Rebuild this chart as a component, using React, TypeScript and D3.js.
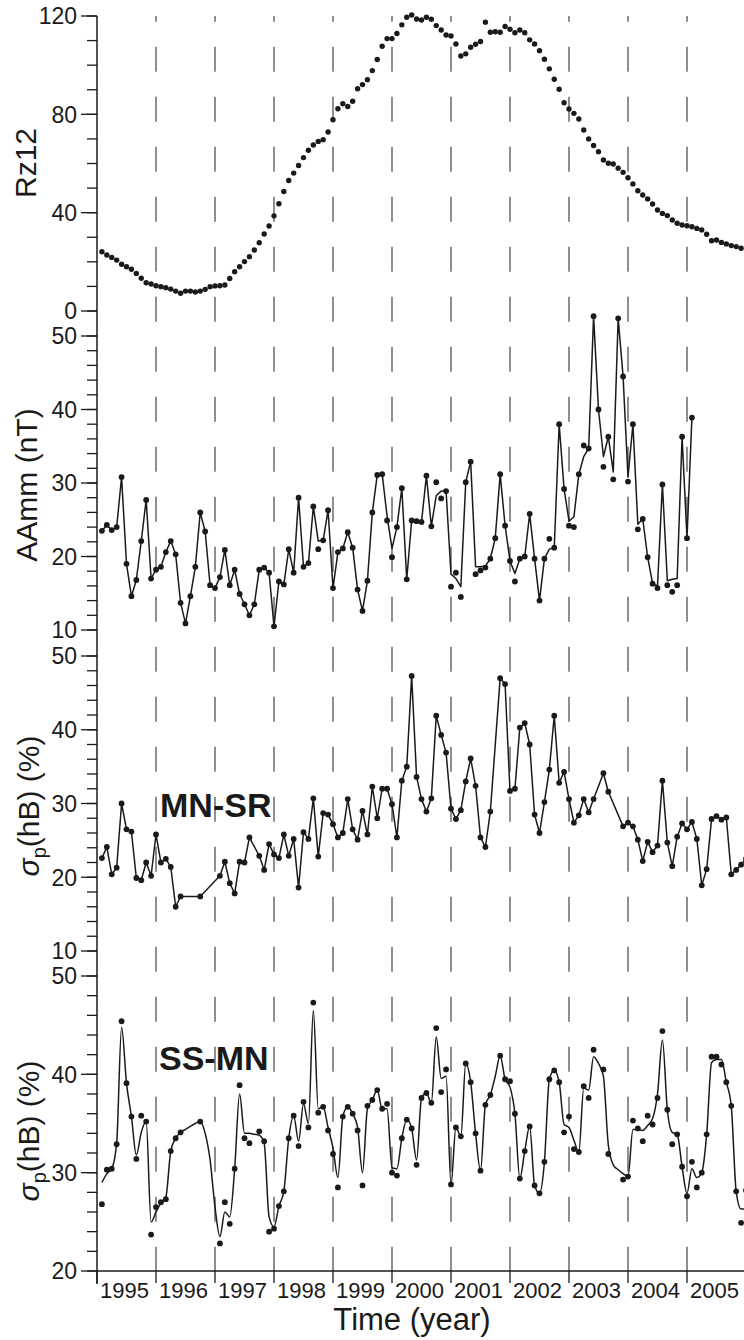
import React from 'react';
import * as d3 from 'd3';

const W = 744;
const H = 1340;

// ---- Tick values / labels ----
const yearTicks = [1995, 1996, 1997, 1998, 1999, 2000, 2001, 2002, 2003, 2004, 2005];
const yearLabels = ['1995', '1996', '1997', '1998', '1999', '2000', '2001', '2002', '2003', '2004', '2005'];
const rzMajor = [0, 40, 80, 120];
const aaMajor = [10, 20, 30, 40, 50];
const mnMajor = [10, 20, 30, 40, 50];
const ssMajor = [20, 30, 40, 50];

// ---- Monthly series, starting Feb 1995 (index k -> 1995 + (k+1)/12) ----
const rz12 = [
  24.1, 22.8, 21.8, 20.7, 19.0, 18.0, 17.0, 15.3, 13.3, 11.5, 11.0, 10.3,
  9.9, 9.5, 8.9, 8.1, 7.2, 8.1, 8.1, 7.7, 8.1, 8.8, 9.9, 10.2,
  10.3, 10.6, 13.2, 16.0, 18.0, 20.1, 22.1, 24.8, 27.8, 31.3, 34.6, 38.7,
  43.6, 48.6, 53.1, 56.1, 59.2, 62.4, 65.4, 67.5, 69.0, 69.7, 72.8, 77.8,
  82.3, 84.3, 83.2, 85.3, 90.4, 92.1, 94.1, 97.8, 102.3, 107.7, 110.8, 110.8,
  112.9, 116.4, 119.5, 120.4, 118.8, 118.4, 119.5, 118.7, 116.1, 114.3, 112.3, 111.9,
  108.6, 103.7, 104.6, 107.3, 108.5, 109.6, 117.5, 113.4, 113.6, 113.4, 115.7, 114.6,
  113.2, 114.3, 113.2, 110.3, 108.6, 105.9, 102.4, 98.5, 94.3, 90.2, 84.7, 82.2,
  80.4, 78.1, 73.6, 70.0, 67.3, 64.8, 61.4, 60.1, 59.8, 58.1, 56.4, 54.2,
  51.7, 48.9, 47.2, 45.6, 43.5, 41.1, 39.7, 38.8, 37.0, 35.7, 35.0, 34.7,
  34.3, 33.6, 33.0, 31.2, 28.6, 28.9, 27.9, 27.3, 26.6, 26.2, 25.5,
];

const aammDots = [
  23.5, 24.3, 23.6, 24.0, 30.8, 19.0, 14.6, 16.8, 22.1, 27.7, 17.0, 18.2,
  18.6, 20.6, 22.1, 20.3, 13.7, 10.9, 14.6, 18.6, 26.0, 23.4, 16.1, 15.7,
  17.2, 20.9, 16.1, 18.2, 14.9, 13.5, 12.0, 13.5, 18.2, 18.5, 17.8, 10.5,
  16.6, 16.2, 21.0, 17.8, 28.0, 18.6, 19.1, 26.8, 21.0, 22.2, 26.3, 15.7,
  20.6, 21.1, 23.3, 21.2, 15.5, 12.6, 16.7, 26.0, 31.1, 31.2, 24.9, 19.9,
  24.0, 29.3, 16.9, 24.9, 24.8, 24.7, 31.0, 24.1, 30.1, 27.9, 28.9, 15.9,
  17.8, 14.5, 30.1, 32.9, 17.6, 18.1, 18.5, 19.7, 22.5, 31.2, 24.2, 19.4,
  16.6, 19.7, 20.0, 25.8, 19.7, 14.0, 19.7, 22.4, 21.2, 38.0, 29.2, 24.2,
  24.0, 31.2, 35.1, 34.7, 52.7, 40.0, 32.2, 36.3, 30.5, 52.4, 44.5, 30.2,
  38.0, 23.7, 25.1, 19.9, 16.3, 15.7, 29.8, 16.1, 15.2, 16.1, 36.3, 22.5,
  38.9,
];

const aammLine = [
  23.5, 24.3, 23.6, 24.0, 30.8, 19.0, 14.6, 16.8, 22.1, 27.7, 17.0, 18.2,
  18.6, 20.6, 22.1, 20.3, 13.7, 10.9, 14.6, 18.6, 26.0, 23.4, 16.1, 15.7,
  17.2, 20.9, 16.1, 18.2, 14.9, 13.5, 12.0, 13.5, 18.2, 18.5, 17.8, 10.5,
  16.6, 16.2, 21.0, 17.8, 28.0, 18.6, 19.1, 26.8, 22.1, 22.2, 26.3, 15.7,
  20.6, 21.1, 23.3, 21.2, 15.5, 12.6, 16.7, 26.0, 31.1, 31.2, 25.5, 21.1,
  24.0, 29.3, 16.9, 24.9, 24.8, 24.7, 31.0, 24.1, 28.3, 28.9, 28.9, 17.6,
  17.0, 15.9, 30.1, 32.9, 18.6, 18.6, 18.7, 19.7, 22.5, 31.2, 24.2, 19.4,
  17.7, 19.7, 20.0, 25.8, 19.7, 14.0, 19.7, 21.0, 21.2, 38.0, 29.2, 24.8,
  25.4, 31.2, 33.6, 34.7, 52.7, 40.0, 33.6, 36.3, 31.5, 52.4, 44.5, 30.8,
  38.0, 24.4, 25.1, 19.9, 16.3, 16.0, 29.8, 16.7, 16.9, 17.0, 36.3, 22.5,
  38.9,
];

const mnsrDots = [
  22.6, 24.1, 20.4, 21.3, 30.0, 26.5, 26.2, 19.9, 19.6, 22.0, 20.2, 25.8,
  22.0, 22.5, 21.4, 16.0, 17.4, null, null, null, 17.4, null, null, null,
  20.2, 22.1, 19.2, 17.8, 22.1, 22.0, 25.4, null, 22.9, 21.0, 24.5, 23.1,
  22.6, 25.8, 22.9, 25.2, 18.6, 26.1, 25.2, 30.7, 22.8, 28.7, 28.5, 27.2,
  25.4, 26.0, 30.6, 26.5, 25.1, 29.0, 25.8, 32.3, 28.0, 32.0, 32.0, 29.9,
  25.4, 33.1, 35.0, 47.3, 33.6, 30.6, 28.9, 30.7, 41.9, 39.3, 36.9, 29.3,
  27.9, 29.1, 33.0, 36.1, 32.4, 25.4, 24.1, 28.9, null, 47.0, 46.2, 31.7,
  32.0, 40.3, 40.9, 38.0, 28.5, 26.0, 30.2, 34.6, 41.9, 32.8, 34.3, 30.6,
  27.4, 28.4, 30.6, 28.8, 30.6, null, 34.1, 31.6, null, null, 26.9, 27.4,
  26.9, 25.1, 22.2, 24.8, 23.4, 24.3, 33.1, 24.7, 21.5, 25.5, 27.3, 26.5,
  27.5, 25.2, 18.9, 21.1, 27.9, 28.3, 27.8, 28.1, 20.4, 21.0, 21.7, 22.5,
];

const ssmnDots = [
  26.8, 30.3, 30.4, 32.9, 45.4, 39.1, 35.7, 31.4, 35.8, 35.2, 23.7, 26.5,
  27.0, 27.3, 32.2, 33.5, 34.1, null, null, null, 35.2, null, null, null,
  22.8, 27.0, 24.8, 30.4, 38.9, 33.5, 33.0, null, 34.2, 33.2, 24.0, 24.3,
  26.6, 28.1, 33.5, 35.8, 32.7, 37.2, 34.6, 47.3, 36.1, 36.7, 34.3, 31.9,
  28.5, 35.7, 36.7, 36.0, 34.3, 28.7, 36.8, 37.4, 38.4, 36.5, 37.0, 30.0,
  29.7, 33.5, 35.4, 34.5, 30.8, 37.6, 38.1, 37.1, 44.7, 38.2, 40.5, 28.8,
  34.6, 33.7, 41.1, 39.2, 34.0, 30.2, 36.9, 37.9, null, 41.9, 39.5, 39.3,
  36.0, 29.4, 32.2, 34.7, 28.7, 27.9, 31.1, 39.5, 40.4, 39.2, 34.1, 35.7,
  32.4, 32.1, 38.8, 37.6, 42.5, null, 40.5, 31.9, null, null, 29.3, 29.6,
  35.3, 34.5, 33.2, 35.8, 34.9, 37.6, 44.4, 36.4, 32.9, 33.9, 30.6, 27.6,
  31.1, 28.5, 30.0, 33.9, 41.8, 41.8, 41.0, 39.2, 36.8, 28.1, 24.9, 28.2,
];

const ssmnLine = [
  29.0, 29.9, 30.4, 33.0, 44.8, 39.1, 35.7, 31.8, 34.1, 35.2, 25.0, 26.0,
  26.9, 27.5, 32.2, 33.5, 34.1, 34.4, 34.7, 35.0, 35.2, 34.0, 31.3, 26.5,
  23.5, 26.0, 25.5, 30.4, 38.0, 34.0, 34.0, 33.9, 33.8, 33.0, 25.5, 24.5,
  26.6, 28.1, 33.5, 35.8, 33.2, 37.0, 35.0, 46.5, 36.5, 36.7, 34.6, 32.5,
  29.5, 35.7, 36.7, 36.0, 34.6, 30.0, 36.5, 37.4, 38.4, 36.5, 36.5, 30.5,
  30.4, 33.5, 35.4, 34.5, 31.3, 37.6, 38.1, 37.1, 43.8, 39.6, 39.8, 28.8,
  34.6, 33.7, 41.1, 39.2, 34.0, 30.2, 36.9, 37.9, 39.8, 41.9, 39.5, 38.7,
  36.0, 29.4, 32.2, 34.7, 28.7, 27.9, 31.1, 39.5, 40.4, 39.2, 34.9, 34.6,
  33.3, 32.1, 38.6, 38.4, 41.8, 41.1, 39.8, 32.8, 30.8, 30.3, 29.9, 29.6,
  34.4, 34.4, 34.3, 34.8, 35.5, 38.0, 43.5, 36.4, 34.1, 33.9, 30.6, 27.9,
  30.4, 29.5, 30.0, 33.9, 41.2, 41.5, 41.5, 39.2, 36.8, 28.1, 26.3, 26.3,
];

const FONT = "'Liberation Sans', Arial, Helvetica, sans-serif";
const INK = '#1a1a1a';

const AXIS_X = 97;
const TOP = 16;
const BOTTOM = 1271;

const x = d3.scaleLinear().domain([1995, 2006]).range([AXIS_X, 746]);
const monthTime = (k: number) => 1995 + (k + 1) / 12;

type Pt = { k: number; v: number };
const toPts = (arr: (number | null)[]): Pt[] =>
  arr.map((v, k) => ({ k, v: v as number })).filter((p) => p.v !== null && p.v !== undefined);

const panels = [
  {
    id: 'rz',
    y: d3.scaleLinear().domain([0, 120]).range([311, TOP]),
    majors: rzMajor,
    minorStep: 10,
    dots: toPts(rz12),
    line: null as Pt[] | null,
    curve: d3.curveLinear,
    r: 2.7,
  },
  {
    id: 'aa',
    y: d3.scaleLinear().domain([10, 50]).range([630, 336]),
    majors: aaMajor,
    minorStep: 2,
    dots: toPts(aammDots),
    line: toPts(aammLine),
    curve: d3.curveLinear,
    r: 2.9,
  },
  {
    id: 'mn',
    y: d3.scaleLinear().domain([10, 50]).range([951, 656]),
    majors: mnMajor,
    minorStep: 2,
    dots: toPts(mnsrDots),
    line: toPts(mnsrDots),
    curve: d3.curveLinear,
    r: 2.9,
  },
  {
    id: 'ss',
    y: d3.scaleLinear().domain([20, 50]).range([BOTTOM, 976]),
    majors: ssMajor,
    minorStep: 2,
    dots: toPts(ssmnDots),
    line: toPts(ssmnLine),
    curve: d3.curveMonotoneX,
    r: 2.9,
  },
];

export default function App() {
  return (
    <svg
      width={W}
      height={H}
      viewBox={`0 0 ${W} ${H}`}
      style={{ position: 'absolute', left: 0, top: 0, background: '#fff' }}
      fontFamily={FONT}
    >
      <rect x={0} y={0} width={W} height={H} fill="#fff" />
      {/* dashed year lines */}
      {yearTicks.slice(1).map((yr) => (
        <line
          key={'g' + yr}
          x1={x(yr)}
          x2={x(yr)}
          y1={TOP}
          y2={BOTTOM}
          stroke="#333"
          strokeWidth={1.1}
          strokeDasharray="25 25"
          strokeDashoffset={19.3}
        />
      ))}

      {/* inline panel labels */}
      <text x={160} y={817} fontSize={34} fontWeight="bold" fill={INK}>MN-SR</text>
      <text x={159} y={1070} fontSize={34} fontWeight="bold" fill={INK}>SS-MN</text>

      {panels.map((p) => {
        const [d0, d1] = p.y.domain();
        const minors = d3.range(d0, d1 + 1e-6, p.minorStep);
        const lineGen = d3
          .line<Pt>()
          .x((d) => x(monthTime(d.k)))
          .y((d) => p.y(d.v))
          .curve(p.curve);
        return (
          <g key={p.id}>
            {minors.map((v) => (
              <line key={'m' + v} x1={87} x2={AXIS_X} y1={p.y(v)} y2={p.y(v)} stroke={INK} strokeWidth={1.3} />
            ))}
            {p.majors.map((v) => (
              <g key={'M' + v}>
                <line x1={81} x2={AXIS_X} y1={p.y(v)} y2={p.y(v)} stroke={INK} strokeWidth={1.3} />
                <text x={77} y={p.y(v)} dy="0.36em" textAnchor="end" fontSize={23} fill={INK}>
                  {String(v)}
                </text>
              </g>
            ))}
            {p.line && (
              <path d={lineGen(p.line) || ''} fill="none" stroke={INK} strokeWidth={1.5} strokeLinejoin="round" />
            )}
            {p.dots.map((d) => (
              <circle key={'d' + d.k} cx={x(monthTime(d.k))} cy={p.y(d.v)} r={p.r} fill={INK} />
            ))}
          </g>
        );
      })}

      {/* axes lines */}
      <line x1={AXIS_X} x2={AXIS_X} y1={TOP} y2={BOTTOM + 13} stroke={INK} strokeWidth={1.5} />
      <line x1={AXIS_X} x2={W} y1={BOTTOM} y2={BOTTOM} stroke={INK} strokeWidth={1.5} />
      {yearTicks.map((yr, i) => (
        <g key={'x' + yr}>
          <line x1={x(yr)} x2={x(yr)} y1={BOTTOM} y2={BOTTOM + 12} stroke={INK} strokeWidth={1.3} />
          <text x={x(yr + 0.5) - 2} y={1298} textAnchor="middle" fontSize={22} fill={INK}>
            {yearLabels[i]}
          </text>
        </g>
      ))}

      {/* axis titles */}
      <text transform="translate(36,163) rotate(-90)" textAnchor="middle" fontSize={30} fill={INK}>Rz12</text>
      <text transform="translate(37,485) rotate(-90)" textAnchor="middle" fontSize={30} fill={INK}>AAmm (nT)</text>
      {[806, 1131].map((cy) => (
        <text key={'s' + cy} transform={`translate(39,${cy}) rotate(-90)`} textAnchor="middle" fontSize={30} fill={INK}>
          <tspan fontStyle="italic">σ</tspan>
          <tspan fontSize={20} dy={7}>p</tspan>
          <tspan dy={-7}>(hB) (%)</tspan>
        </text>
      ))}
      <text x={412} y={1330} textAnchor="middle" fontSize={31} fill={INK}>Time (year)</text>
    </svg>
  );
}
